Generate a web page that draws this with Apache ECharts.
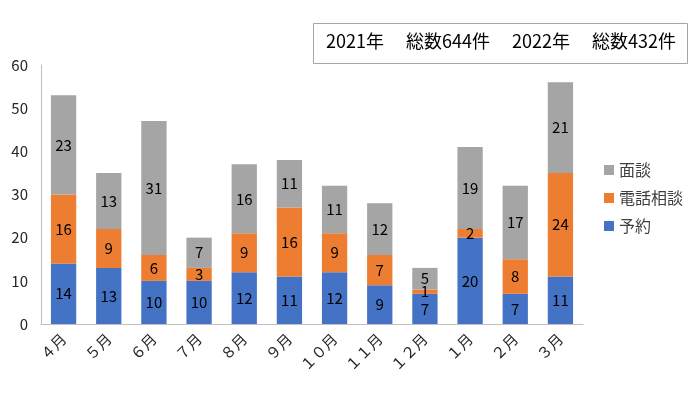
<!DOCTYPE html>
<html lang="ja">
  <head>
    <meta charset="utf-8">
    <script src="https://cdn.jsdelivr.net/npm/echarts@6/dist/echarts.min.js"></script>
  </head>
  <body style="margin:0;">
    <div id="chart" style="width:700px;height:398px;"></div>
    <script>
      // 月
      const months = ['４月', '５月', '６月', '７月', '８月', '９月', '１０月', '１１月', '１２月', '１月', '２月', '３月'];
      // 件数
      const yoyaku = [14, 13, 10, 10, 12, 11, 12, 9, 7, 20, 7, 11];
      const denwa = [16, 9, 6, 3, 9, 16, 9, 7, 1, 2, 8, 24];
      const mendan = [23, 13, 31, 7, 16, 11, 11, 12, 5, 19, 17, 21];

      const font = '"Noto Sans CJK JP", "Noto Sans", sans-serif';

      function bar(name, data, color) {
        return {
          name: name,
          type: 'bar',
          stack: 'total',
          data: data,
          barWidth: '56%',
          itemStyle: { color: color },
          label: { show: true, position: 'inside', color: '#000', fontSize: 15, fontFamily: font }
        };
      }

      var myChart = echarts.init(document.getElementById('chart'));
      var option = {
        animation: false,
        graphic: [
          {
            type: 'rect',
            left: 313,
            top: 23,
            shape: { width: 374, height: 40 },
            style: { fill: '#fff', stroke: '#a6a6a6', lineWidth: 1 }
          },
          {
            type: 'text',
            left: 326,
            top: 32,
            style: {
              text: '2021年　 総数644件　 2022年　 総数432件',
              fontSize: 18,
              fill: '#000',
              fontFamily: font
            }
          }
        ],
        grid: { left: 41, right: 117, top: 65, bottom: 74 },
        legend: {
          orient: 'vertical',
          right: 12,
          top: 157,
          itemWidth: 10,
          itemHeight: 10,
          itemGap: 12,
          icon: 'rect',
          data: ['面談', '電話相談', '予約'],
          textStyle: { fontSize: 16, color: '#404040', fontFamily: font }
        },
        xAxis: {
          type: 'category',
          data: months,
          axisLine: { lineStyle: { color: '#bfbfbf' } },
          axisTick: { show: false },
          axisLabel: { rotate: 45, color: '#262626', fontSize: 15, fontFamily: font, margin: 12 }
        },
        yAxis: {
          type: 'value',
          min: 0,
          max: 60,
          interval: 10,
          splitLine: { show: false },
          axisLine: { show: true, lineStyle: { color: '#bfbfbf' } },
          axisLabel: { color: '#262626', fontSize: 15, fontFamily: font, margin: 13 }
        },
        series: [
          bar('予約', yoyaku, '#4472c4'),
          bar('電話相談', denwa, '#ed7d31'),
          bar('面談', mendan, '#a5a5a5')
        ]
      };
      myChart.setOption(option);
    </script>
  </body>
</html>
